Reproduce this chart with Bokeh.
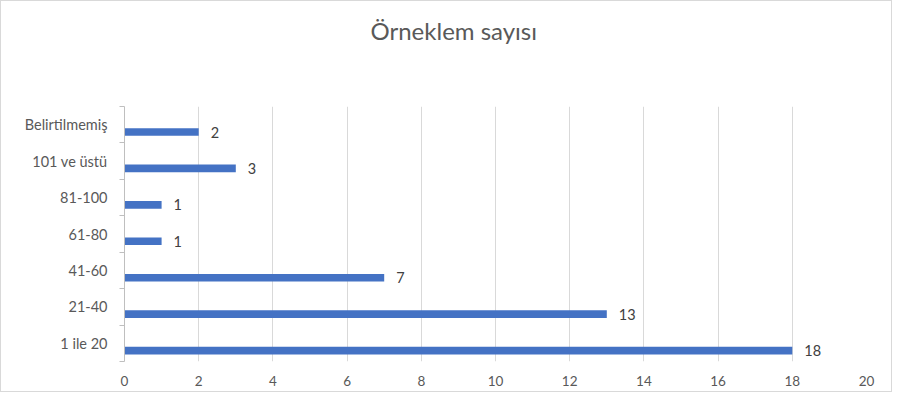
from bokeh.plotting import figure
from bokeh.models import Range1d, LinearAxis, FixedTicker, ColumnDataSource, Title
from bokeh.core.properties import value
from bokeh.embed import file_html
from bokeh.resources import INLINE

categories = ["1 ile 20", "21-40", "41-60", "61-80", "81-100", "101 ve üstü", "Belirtilmemiş"]
counts = [18, 13, 7, 1, 1, 3, 2]
x_ticks = [0, 2, 4, 6, 8, 10, 12, 14, 16, 18, 20]
title_text = "Örneklem sayısı"

FONT = "Lato"
TEXT = "#595959"

n = len(categories)
centers = [i + 0.5 for i in range(n)]          # category band centres
bar_pos = [c - 0.2 for c in centers]           # bars sit low in each band
src = ColumnDataSource(dict(y=bar_pos, val=counts, label=[str(v) for v in counts]))

p = figure(width=892, height=392,
           y_range=Range1d(0, n),
           x_range=Range1d(x_ticks[0], x_ticks[-1]),
           output_backend="svg", toolbar_location=None,
           x_axis_location=None, y_axis_location=None,
           title=title_text,
           min_border_left=123, min_border_right=27,
           min_border_top=105, min_border_bottom=32)
p.outline_line_color = None
p.background_fill_color = "white"
p.border_fill_color = "white"
p.styles = {"border": "1px solid #d9d9d9"}

p.title.text_font = FONT
p.title.text_font_size = "24px"
p.title.text_font_style = "normal"
p.title.text_color = TEXT
p.title.align = "left"
p.title.offset = 246
p.title.standoff = 10

# empty spacer between title and plot area
p.add_layout(Title(text=" ", text_font_size="1px", standoff=54), "above")

y_axis = LinearAxis(ticker=FixedTicker(ticks=centers, minor_ticks=list(range(n + 1))),
                    major_label_overrides={c: cat for c, cat in zip(centers, categories)},
                    major_tick_in=0, major_tick_out=0, major_tick_line_color=None,
                    minor_tick_in=0, minor_tick_out=5, minor_tick_line_color="#bfbfbf",
                    axis_line_color="#bfbfbf",
                    major_label_standoff=12,
                    major_label_text_font=FONT,
                    major_label_text_font_size="14.5px",
                    major_label_text_color=TEXT)
p.add_layout(y_axis, "left")

x_axis = LinearAxis(ticker=FixedTicker(ticks=x_ticks),
                    axis_line_color=None, major_tick_line_color=None,
                    minor_tick_line_color=None,
                    major_tick_in=0, major_tick_out=0,
                    major_label_standoff=14,
                    major_label_text_font=FONT,
                    major_label_text_font_size="13.5px",
                    major_label_text_color=TEXT)
p.add_layout(x_axis, "below")

p.xgrid.ticker = x_axis.ticker
p.xgrid.grid_line_color = "#d9d9d9"
p.ygrid.visible = False

p.hbar(y="y", right="val", left=0, height=0.21,
       source=src, fill_color="#4472C4", line_color=None)
p.text(x="val", y="y", text="label", source=src,
       x_offset=12, text_align="left", text_baseline="middle",
       text_font=value(FONT), text_font_size="14.5px", text_color="#404040")

open("out.html", "w").write(file_html(p, INLINE))
